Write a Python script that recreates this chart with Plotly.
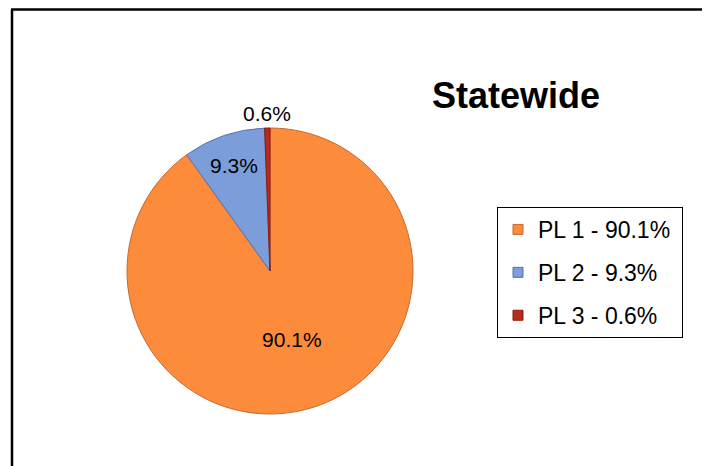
import math
import plotly.graph_objects as go

labels = ["PL 1", "PL 2", "PL 3"]
values = [90.1, 9.3, 0.6]
legend_text = ["PL 1 - 90.1%", "PL 2 - 9.3%", "PL 3 - 0.6%"]
fill_colors = ["#FD8B3C", "#7B9DDA", "#B92A1E"]
edge_colors = ["#C8682E", "#5273AC", "#8A1C12"]
text_pos = ["inside", "inside", "none"]

W, H = 711, 466
FONT = "Liberation Sans, Arial, sans-serif"

# pie geometry (pixels)
CX, CY, R = 270, 271, 143

fig = go.Figure()
fig.add_trace(go.Pie(
    labels=labels, values=values, sort=False, direction="clockwise", rotation=0,
    marker=dict(colors=fill_colors, line=dict(color=edge_colors, width=1)),
    texttemplate="%{value:.1f}%", textposition=text_pos,
    insidetextorientation="horizontal",
    textfont=dict(family=FONT, size=21, color="black"),
    showlegend=False, hoverinfo="label+percent",
    domain=dict(x=[(CX - R) / W, (CX + R) / W], y=[1 - (CY + R) / H, 1 - (CY - R) / H]),
))

for i, name in enumerate(legend_text):
    fig.add_trace(go.Scatter(
        x=[None], y=[None], mode="markers", name=name + "\u00a0", legendgroup=name,
        marker=dict(symbol="square", size=10, color=fill_colors[i],
                    line=dict(color=edge_colors[i], width=1)),
    ))

# label for the tiny slice, placed just outside its mid-angle
total = sum(values)
frac = (sum(values[:2]) + values[2] / 2) / total
ang = 2 * math.pi * frac
lx = CX + (R + 15) * math.sin(ang)
ly = CY - (R + 15) * math.cos(ang)
annotations = [dict(x=lx / W, y=1 - ly / H, xref="paper", yref="paper",
                    text=f"{values[2]:.1f}%", showarrow=False,
                    xanchor="center", yanchor="middle",
                    font=dict(family=FONT, size=21, color="black"))]

fig.update_layout(
    width=W, height=H, margin=dict(l=0, r=0, t=0, b=0),
    paper_bgcolor="white", plot_bgcolor="white",
    xaxis=dict(visible=False), yaxis=dict(visible=False),
    title=dict(text="<b>Statewide</b>", x=516 / W, y=1 - 95 / H,
               xanchor="center", yanchor="middle",
               font=dict(family=FONT, size=36, color="black")),
    legend=dict(x=497 / W, y=1 - 207 / H, xanchor="left", yanchor="top",
                bordercolor="black", borderwidth=1, bgcolor="white",
                font=dict(family=FONT, size=23, color="black"),
                tracegroupgap=10, itemwidth=30),
    annotations=annotations,
    shapes=[
        dict(type="line", xref="paper", yref="paper", x0=11 / W, x1=702 / W,
             y0=1 - 9.5 / H, y1=1 - 9.5 / H, line=dict(color="black", width=2.5)),
        dict(type="line", xref="paper", yref="paper", x0=12 / W, x1=12 / W,
             y0=1 - 9.5 / H, y1=-0.01, line=dict(color="black", width=2.5)),
    ],
)

fig.write_html("out.html", config={"displayModeBar": False},
               post_script="document.body.style.margin='0';")
